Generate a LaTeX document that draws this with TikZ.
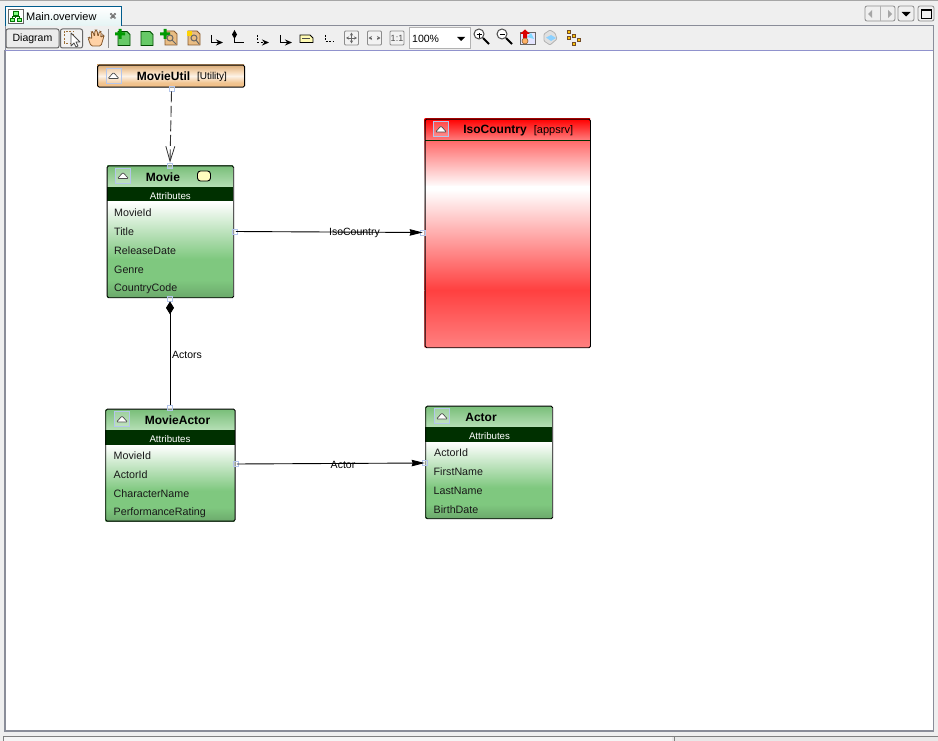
\documentclass[tikz,border=0pt]{standalone}
\usepackage{fontspec}
\setmainfont{Liberation Sans}
\usetikzlibrary{arrows.meta,positioning}
\definecolor{winbg}{HTML}{EFEFEF}
\definecolor{frameg}{HTML}{8A8D99}
\definecolor{barg}{HTML}{003000}
\definecolor{portb}{HTML}{B4C6EC}
\definecolor{wood}{HTML}{F0BE85}
\definecolor{leaf}{HTML}{7FC87F}
\definecolor{iconor}{HTML}{E0A050}
\pgfdeclareverticalshading{greenhead}{100bp}{color(0bp)=(leaf!55!white); color(25bp)=(leaf!55!white); color(75bp)=(leaf!95!black); color(100bp)=(leaf!95!black)}
\pgfdeclareverticalshading{greenbody}{100bp}{color(0bp)=(leaf!85!black); color(25bp)=(leaf!85!black); color(34bp)=(leaf); color(45bp)=(leaf); color(75bp)=(white); color(100bp)=(white)}
\pgfdeclareverticalshading{orangehead}{100bp}{color(0bp)=(wood); color(25bp)=(wood); color(35bp)=(wood!90!white); color(50bp)=(wood!20!white); color(60bp)=(wood!60!white); color(75bp)=(wood!90!black); color(100bp)=(wood!90!black)}
\pgfdeclareverticalshading{redhead}{100bp}{color(0bp)=(red!50!white); color(25bp)=(red!50!white); color(75bp)=(red); color(100bp)=(red)}
\pgfdeclareverticalshading{redbodyb}{100bp}{color(0bp)=(red!50!white); color(25bp)=(red!50!white); color(40bp)=(red!75!white); color(62bp)=(white); color(66bp)=(white); color(75bp)=(red!60!white); color(100bp)=(red!60!white)}
\tikzset{
  x=1pt,y=-1pt,
  entframe/.style={draw=black,line width=0.9pt,rounded corners=1.5pt,inner sep=0pt,anchor=north west,fill=none},
  portbox/.style={draw=portb,line width=0.7pt,minimum size=5pt,inner sep=0pt,fill=white,fill opacity=0.4},
  rowtext/.style={font=\fontsize{10.7}{12}\selectfont,anchor=west,inner sep=0pt,text=black!90},
  titletext/.style={font=\fontsize{12}{14}\bfseries\selectfont,inner sep=0pt,text=black},
  tagtext/.style={font=\fontsize{11}{12}\selectfont,inner sep=0pt,text=black},
  bartext/.style={font=\fontsize{9.7}{12}\selectfont,inner sep=0pt,text=white},
  linktext/.style={font=\fontsize{10.5}{12}\selectfont,inner sep=0pt,text=black},
  tbtn/.style={draw=black!45,line width=0.8pt,rounded corners=2pt,fill=winbg},
  linkline/.style={line width=0.9pt,black},
  iconline/.style={line width=1pt,black},
}
\newcommand{\collapser}[2]{%
  \draw[portb,line width=0.7pt,fill=white,fill opacity=.25] (#1-7.5,#2-7.5) rectangle (#1+7.5,#2+7.5);
  \draw[black!70,line width=0.7pt,fill=white,line join=round,rounded corners=1pt] (#1-5.5,#2+3) -- (#1,#2-3) -- (#1+5.5,#2+3) -- cycle;}
\newcommand{\band}[5]{\path[shading=#5] (#1,#2) rectangle (#3,#4);}
\newcommand{\mypage}[4]{% x y fill edge
  \draw[#4,fill=#3,line width=.8pt] (#1-6,#2-7) -- (#1+3,#2-7) -- (#1+6,#2-4) -- (#1+6,#2+7) -- (#1-6,#2+7) -- cycle;}
\newcommand{\myplus}[2]{\fill[green!60!black] (#1-5,#2-1.5) rectangle (#1+5,#2+1.5) (#1-1.5,#2-5) rectangle (#1+1.5,#2+5);}
\newcommand{\mymag}[3]{% x y sign
  \draw[black!70,line width=1pt,fill=white] (#1-2,#2-2) circle (5);
  \draw[black,line width=2pt] (#1+2,#2+2) -- (#1+8,#2+8);
  \draw[black,line width=.8pt] (#1-4.5,#2-2) -- (#1+.5,#2-2);
  #3}
\begin{document}
\begin{tikzpicture}
\useasboundingbox (0,0) rectangle (938,741);
\fill[winbg] (0,0) rectangle (938,741);
% window chrome
\draw[black!35,line width=1pt] (0,1) -- (938,1);
\fill[winbg] (5,26) rectangle (934,50);
\draw[frameg,line width=.8pt] (5,25.5) -- (933.5,25.5) -- (933.5,50);
\draw[frameg,line width=.8pt] (5.5,25.5) -- (5.5,50);
\path[top color=white,bottom color=white!80!cyan!30!winbg] (5,7) rectangle (121,26);
\draw[black!20!blue!40!cyan!60!black,line width=.8pt] (5,26) -- (5,6.5) -- (121,6.5) -- (121,26);
% tab icon
\draw[black!60,fill=white,line width=.8pt] (8,9) rectangle (23,23);
\draw[green!45!black,fill=green!50!white,line width=.8pt] (13,11) rectangle (18,15) (10,18) rectangle (14,21) (17,18) rectangle (21,21);
\draw[green!40!black,line width=.6pt] (15.5,15) -- (15.5,18) (12,18) -- (12,16.5) -- (19,16.5) -- (19,18);
\node[font=\fontsize{11}{13}\selectfont,anchor=west,inner sep=0pt,text=black] (tabname) at (26,16.5) {Main.overview};
\draw[black!55,line width=1.8pt,dash pattern=on 1.5pt off .6pt] (110.5,13.5) -- (115.5,18.5) (115.5,13.5) -- (110.5,18.5);
% right buttons
\node[tbtn,minimum width=30pt,minimum height=15pt,inner sep=0pt] (navbtn) at (880,13.5) {};
\draw[black!30] (880,6) -- (880,21);
\fill[black!35] (872,10) -- (872,18) -- (868,14) -- cycle (888,10) -- (888,18) -- (892,14) -- cycle;
\node[tbtn,minimum width=16pt,minimum height=15pt,inner sep=0pt] (dropbtn) at (906,13.5) {};
\fill[black] (901.5,12) -- (910.5,12) -- (906,16.5) -- cycle;
\node[tbtn,minimum width=16pt,minimum height=15pt,inner sep=0pt] (maxbtn) at (926,13.5) {};
\draw[black,line width=.9pt] (921,9.5) rectangle (931,18);
\draw[black,line width=1.6pt] (921,10.5) -- (931,10.5);
% toolbar
\node[tbtn,draw=black!60,line width=1pt,fill=black!8,minimum width=53pt,minimum height=19pt,inner sep=0pt,font=\fontsize{10.5}{12}\selectfont] (diagbtn) at (32.5,38.5) {Diagram};
\node[tbtn,draw=black!60,line width=1pt,fill=black!5,minimum width=22pt,minimum height=19pt,inner sep=0pt] (selbtn) at (71.5,38.5) {};
\draw[iconor!70!black,line width=.9pt,dash pattern=on 2pt off 1.5pt] (64,31) rectangle (73,43);
\draw[black!70,fill=white,line width=.8pt,line join=round] (71,33) -- (71,46) -- (74,43) -- (76,47) -- (78,46) -- (76,42) -- (80,42) -- cycle;
\draw[brown!70!black,fill=orange!35!white,line width=.8pt,rounded corners=1.5pt] (91,46) -- (88,38) -- (90,37) -- (92,39) -- (91,32) -- (93,31.5) -- (94.5,37) -- (95,30) -- (97,30) -- (98,37) -- (99.5,31) -- (101.5,32) -- (100.5,38) -- (103,35) -- (104,36) -- (101,46) -- cycle;
\draw[black!45,line width=.8pt] (108.5,29) -- (108.5,48);
\mypage{124}{38.5}{green!65!black!60!white}{green!30!black}
\myplus{120}{34}
\mypage{147}{38.5}{green!65!black!60!white}{green!30!black}
\mypage{171}{38}{iconor!70!white}{brown!70!black}
\myplus{165}{34}
\draw[black!60,line width=1pt] (170,38) circle (3) (172,40) -- (176,44);
\mypage{194}{38}{iconor!70!white}{brown!70!black}
\fill[yellow!70!orange] (187,31) rectangle (192,36);
\draw[black!60,line width=1pt] (194,38) circle (3) (196,40) -- (199,44);
% link icons
\draw[iconline,-{Stealth[length=7pt,width=6pt]}] (211.5,35) -- (211.5,42.5) -- (223,42.5);
\draw[iconline] (234.5,33) -- (234.5,42.5) -- (244,42.5);
\fill[black] (234.5,30) -- (237,34.5) -- (234.5,39) -- (232,34.5) -- cycle;
\draw[iconline,dash pattern=on 2pt off 1.5pt,-{Stealth[length=7pt,width=6pt]}] (257.5,35) -- (257.5,42.5) -- (269,42.5);
\draw[iconline,-{Stealth[length=7pt,width=6pt,open,fill=white]}] (280.5,35) -- (280.5,42.5) -- (292,42.5);
\draw[black,fill=yellow!30!white,line width=.8pt] (300,35) -- (310,35) -- (313,38) -- (313,42.5) -- (300,42.5) -- cycle;
\draw[black!70,line width=.6pt] (302,38.5) -- (310,38.5);
\draw[iconline,dash pattern=on 2pt off 1.5pt] (325,35) -- (325,41.5) -- (334,41.5);
% zoom buttons
\foreach \bx/\bn in {351.5/fitbtn,374.5/widbtn,397/onebtn}{
  \node[draw=black!45,fill=black!5,line width=.8pt,rounded corners=1pt,minimum size=14pt,inner sep=0pt] (\bn) at (\bx,38) {};}
\draw[black!60,line width=.7pt,<->,>={Stealth[length=3pt,width=3pt]}] (346,38) -- (357,38);
\draw[black!60,line width=.7pt,<->,>={Stealth[length=3pt,width=3pt]}] (351.5,32.5) -- (351.5,43.5);
\draw[black!60,line width=.7pt,<-,>={Stealth[length=3.5pt,width=4pt]}] (368.5,38) -- (372,38);
\draw[black!60,line width=.7pt,->,>={Stealth[length=3.5pt,width=4pt]}] (377,38) -- (380.5,38);
\node[font=\fontsize{9}{10}\selectfont,inner sep=0pt,text=black!70] (onelabel) at (397,38.5) {1:1};
\node[draw=black!30,fill=white,line width=.8pt,minimum width=61pt,minimum height=21pt,inner sep=0pt] (combo) at (439.5,38) {};
\node[font=\fontsize{10.5}{12}\selectfont,anchor=west,inner sep=0pt] (combotext) at (412,38.5) {100\%};
\fill[black] (457,37) -- (465,37) -- (461,41) -- cycle;
\mymag{481}{36}{\draw[black,line width=.8pt] (479,33.5) -- (479,38.5);}
\mymag{504}{36}{}
% export icon
\draw[black!60,fill=blue!10,line width=.8pt] (520,32) rectangle (535,44.5);
\fill[blue!30!cyan!50!white] (527,37) -- (531,33) -- (534,39) -- cycle;
\draw[brown!70!black,fill=orange!60,line width=.6pt] (525,41) circle (3);
\fill[red!85!black] (525,29.5) -- (530,34) -- (527,34) -- (527,38) -- (523,38) -- (523,34) -- (520,34) -- cycle;
% printer icon
\draw[black!30,fill=black!12,line width=.8pt,rounded corners=1pt] (544,34) -- (550,30) -- (555,33) -- (557,39) -- (550,45) -- (544,41) -- cycle;
\fill[blue!40!cyan!45!white] (546,37.5) -- (551,35) -- (556,38) -- (551,41) -- cycle;
% layout icon
\foreach \ix/\iy in {569/32,574/36,579/40,574/44,569/38}{
  \draw[brown!60!black,fill=yellow!55!orange,line width=.7pt] (\ix-1.5,\iy-1.5) rectangle (\ix+1.5,\iy+1.5);}
% canvas
\fill[white] (5,50) rectangle (934,731);
\draw[frameg,line width=1.4pt] (5,50.3) -- (5,731) -- (933.3,731) -- (933.3,50.3);
\draw[frameg!70!blue!70!white,line width=1.2pt] (5,50.3) -- (933.3,50.3);
% bottom strip
\fill[white!40!winbg] (3,737) rectangle (672,741);
\fill[black!9] (672,737) rectangle (938,741);
\draw[black!50,line width=.7pt] (3,741) -- (3,736.5) -- (938,736.5);
\draw[black!50,line width=.7pt] (674,736.5) -- (674,741);
% MovieUtil
\band{97}{65}{244}{87}{orangehead}
\node[entframe,minimum width=147pt,minimum height=22pt] (movieutil) at (97.2,64.7) {};
\collapser{113.5}{75.5}
\node[titletext] (movieutilname) at (163.5,76.5) {MovieUtil};
\node[tagtext,font=\fontsize{10}{12}\selectfont] (movieutiltag) at (212,76.8) {[Utility]};
% Movie
\band{107}{165.5}{233}{188}{greenhead}
\fill[barg] (106.7,187) rectangle (233.3,202);
\band{107}{202}{233}{297}{greenbody}
\node[entframe,minimum width=126.6pt,minimum height=131.8pt] (movie) at (106.7,165.5) {};
\collapser{123}{175.5}
\node[titletext] (moviename) at (163,177.5) {Movie};
\draw[black,fill=yellow!25!white,line width=.9pt,rounded corners=3pt] (197.5,171) rectangle (210.5,181);
\node[bartext] (moviebar) at (170.3,196) {Attributes};
\node[rowtext] (m1) at (114,213) {MovieId};
\node[rowtext] (m2) at (114,232) {Title};
\node[rowtext] (m3) at (114,251) {ReleaseDate};
\node[rowtext] (m4) at (114,270) {Genre};
\node[rowtext] (m5) at (114,289) {CountryCode};
% MovieActor
\band{105.5}{409}{234.5}{431}{greenhead}
\fill[barg] (105.3,430) rectangle (234.7,445);
\band{105.5}{445}{234.5}{521}{greenbody}
\node[entframe,minimum width=129.4pt,minimum height=112pt] (movieactor) at (105.3,408.7) {};
\collapser{122}{419}
\node[titletext] (movieactorname) at (177.5,420.5) {MovieActor};
\node[bartext] (actorbar) at (170,439) {Attributes};
\node[rowtext] (a1) at (113.5,456) {MovieId};
\node[rowtext] (a2) at (113.5,475) {ActorId};
\node[rowtext] (a3) at (113.5,494) {CharacterName};
\node[rowtext] (a4) at (113.5,513) {PerformanceRating};
% Actor
\band{425.5}{406}{552}{428}{greenhead}
\fill[barg] (425.3,427.3) rectangle (552.3,442);
\band{425.5}{442}{552}{518}{greenbody}
\node[entframe,minimum width=127pt,minimum height=112.6pt] (actor) at (425.3,405.7) {};
\collapser{442}{416}
\node[titletext] (actorname) at (481,417.5) {Actor};
\node[bartext] (actorbarb) at (489.5,436) {Attributes};
\node[rowtext] (b1) at (434,453) {ActorId};
\node[rowtext] (b2) at (433.5,472) {FirstName};
\node[rowtext] (b3) at (433.5,491) {LastName};
\node[rowtext] (b4) at (433.5,510) {BirthDate};
% IsoCountry
\band{424.7}{119}{590}{140.5}{redhead}
\path[top color=red!58!white,bottom color=white] (424.7,141) rectangle (590,187);
\fill[white] (424.7,186) rectangle (590,191);
\path[top color=white,bottom color=red!75!white] (424.7,190) rectangle (590,290);
\path[top color=red!75!white,bottom color=red!50!white] (424.7,290) rectangle (590,347);
\draw[barg,line width=.9pt] (424.7,140.5) -- (590,140.5);
\node[entframe,minimum width=165.3pt,minimum height=228.6pt] (isocountry) at (424.7,118.7) {};
\collapser{441}{129}
\node[titletext] (isoname) at (495,130.5) {IsoCountry};
\node[tagtext] (isotag) at (553.5,131) {[appsrv]};
% connectors
\node[portbox] (pmu) at (171.5,88.5) {};
\node[portbox] (pmt) at (170,165.5) {};
\node[portbox] (pt) at (234.5,231.5) {};
\node[portbox] (pi) at (423,232.5) {};
\node[portbox] (pb) at (170,298.5) {};
\node[portbox] (pma) at (170,408) {};
\node[portbox] (pe) at (235.5,464) {};
\node[portbox] (pa) at (425,463) {};
\draw[linkline,black!80,dash pattern=on 11pt off 3.5pt,-{Straight Barb[length=15pt,width=9pt,line width=.8pt]}] (pmu.south) -- (pmt.north);
\draw[linkline,shorten <=-1.5pt,shorten >=-2.5pt,-{Stealth[length=13pt,width=6.5pt,inset=1pt]}] (pt) -- (pi);
\draw[linkline,{Diamond[length=13pt,width=8pt]}-] (pb) -- (pma);
\draw[linkline,shorten <=-1.5pt,shorten >=-2.5pt,-{Stealth[length=13pt,width=6.5pt,inset=1pt]}] (pe) -- (pa);
\node[linktext] (lbliso) at (354.5,233) {IsoCountry};
\node[linktext] (lblact) at (187,355) {Actors};
\node[linktext] (lblactor) at (343,465) {Actor};
\end{tikzpicture}
\end{document}
